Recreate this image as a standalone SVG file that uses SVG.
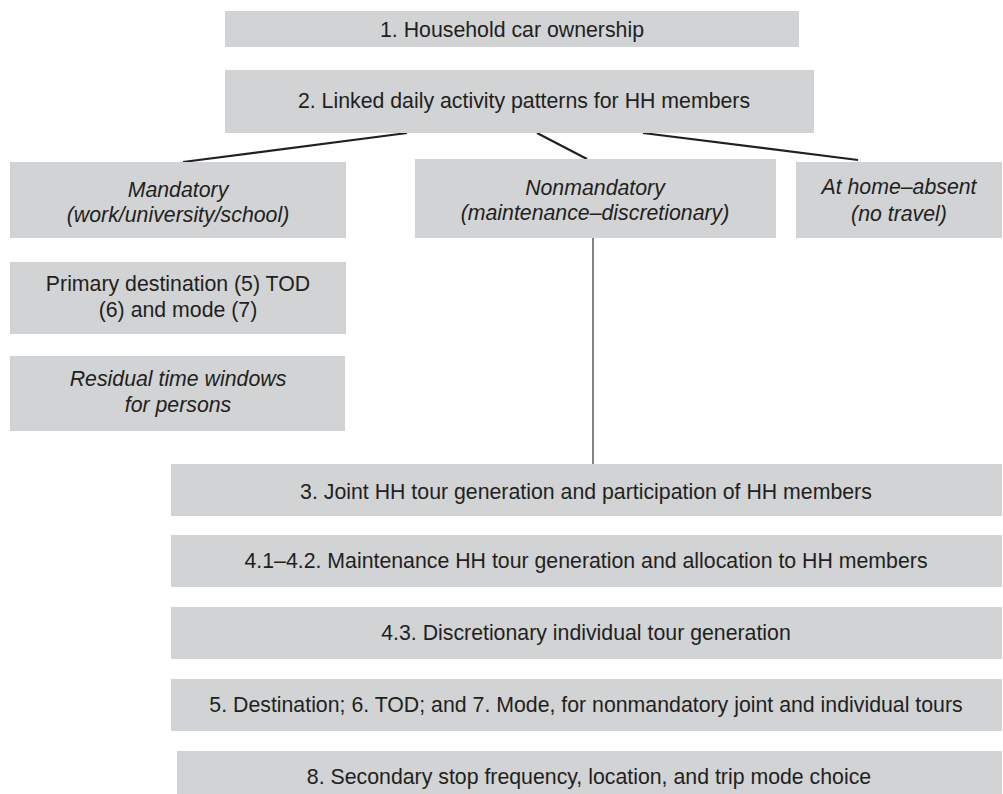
<svg xmlns="http://www.w3.org/2000/svg" width="1003" height="794" viewBox="0 0 1003 794">
  <style>
    .box { fill: #d1d3d4; }
    .t { font-family: "Liberation Sans", Arial, sans-serif; font-size: 21.3px; fill: #231f20; text-anchor: middle; }
    .i { font-style: italic; }
    .conn { stroke: #231f20; stroke-width: 2.2; fill: none; stroke-linecap: butt; }
    .vline { stroke: #4d4d4f; stroke-width: 1.4; fill: none; }
  </style>
  <rect width="1003" height="794" fill="#ffffff"/>
  <g id="connectors">
    <line class="conn" x1="407" y1="133" x2="183" y2="162"/>
    <line class="conn" x1="537" y1="133" x2="587" y2="159"/>
    <line class="conn" x1="643" y1="133" x2="858" y2="160"/>
    <line class="vline" x1="593" y1="238" x2="593" y2="464"/>
  </g>
  <g id="n1">
    <rect class="box" x="225" y="11" width="574" height="36"/>
    <text class="t" x="512" y="36.5">1. Household car ownership</text>
  </g>
  <g id="n2">
    <rect class="box" x="225" y="70" width="589" height="63"/>
    <text class="t" x="524" y="108">2. Linked daily activity patterns for HH members</text>
  </g>
  <g id="mandatory">
    <rect class="box" x="10" y="162" width="336" height="76"/>
    <text class="t i" x="178" y="197">Mandatory</text>
    <text class="t i" x="178" y="222">(work/university/school)</text>
  </g>
  <g id="nonmandatory">
    <rect class="box" x="415" y="159" width="361" height="79"/>
    <text class="t i" x="595" y="195">Nonmandatory</text>
    <text class="t i" x="595" y="220">(maintenance–discretionary)</text>
  </g>
  <g id="athome">
    <rect class="box" x="796" y="162" width="206" height="76"/>
    <text class="t i" x="899" y="194">At home–absent</text>
    <text class="t i" x="899" y="221">(no travel)</text>
  </g>
  <g id="primary">
    <rect class="box" x="10" y="262" width="336" height="72"/>
    <text class="t" x="178" y="291">Primary destination (5) TOD</text>
    <text class="t" x="178" y="317">(6) and mode (7)</text>
  </g>
  <g id="residual">
    <rect class="box" x="10" y="356" width="335" height="75"/>
    <text class="t i" x="178" y="386">Residual time windows</text>
    <text class="t i" x="178" y="412">for persons</text>
  </g>
  <g id="n3">
    <rect class="box" x="171" y="464" width="831" height="52"/>
    <text class="t" x="586" y="499">3. Joint HH tour generation and participation of HH members</text>
  </g>
  <g id="n41">
    <rect class="box" x="171" y="535" width="831" height="52"/>
    <text class="t" x="586" y="568">4.1–4.2. Maintenance HH tour generation and allocation to HH members</text>
  </g>
  <g id="n43">
    <rect class="box" x="171" y="607" width="831" height="52"/>
    <text class="t" x="586" y="640">4.3. Discretionary individual tour generation</text>
  </g>
  <g id="n5">
    <rect class="box" x="171" y="679" width="831" height="52"/>
    <text class="t" x="586" y="712">5. Destination; 6. TOD; and 7. Mode, for nonmandatory joint and individual tours</text>
  </g>
  <g id="n8">
    <rect class="box" x="177" y="751" width="825" height="43"/>
    <text class="t" x="589" y="784">8. Secondary stop frequency, location, and trip mode choice</text>
  </g>
</svg>
